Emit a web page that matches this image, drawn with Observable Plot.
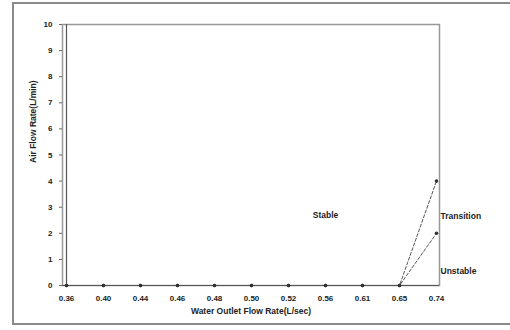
<!DOCTYPE html>
<html>
<head>
<meta charset="utf-8">
<script src="https://cdn.jsdelivr.net/npm/d3@7"></script>
<script src="https://cdn.jsdelivr.net/npm/@observablehq/plot@0.6"></script>
<style>
  html, body { margin: 0; padding: 0; background: #fff; }
  #wrap { position: relative; width: 510px; height: 330px; overflow: hidden; }
  #box { position: absolute; left: 12px; top: 2px; width: 510px; height: 323px; border: 2px solid #8a8a8a; box-sizing: border-box; pointer-events: none; }
  svg { position: absolute; left: 0; top: 0; }
</style>
</head>
<body>
<div id="wrap"><div id="box"></div></div>
<script>
const categories = ["0.36","0.40","0.44","0.46","0.48","0.50","0.52","0.56","0.61","0.65","0.74"];
const upperBoundary = [0,0,0,0,0,0,0,0,0,0,4];
const lowerBoundary = [0,0,0,0,0,0,0,0,0,0,2];
const yTicks = [0,1,2,3,4,5,6,7,8,9,10];
const regionLabels = ["Stable","Transition","Unstable"];
const regionX = ["0.56","0.74","0.74"];
const regionY = [2.7,2.65,0.55];
const xTitle = "Water Outlet Flow Rate(L/sec)";
const yTitle = "Air Flow Rate(L/min)";

const upper = categories.map((c,i)=>({x:c, y:upperBoundary[i]}));
const lower = categories.map((c,i)=>({x:c, y:lowerBoundary[i]}));
const labels = regionLabels.map((t,i)=>({t, x:regionX[i], y:regionY[i]}));

const font = "Liberation Sans, Arial, sans-serif";

const chart = Plot.plot({
  width: 510,
  height: 330,
  marginLeft: 62,
  marginRight: 71,
  marginTop: 24,
  marginBottom: 45,
  style: {fontFamily: font, fontSize: "8px", fontWeight: "bold", color: "#222", background: "transparent"},
  x: {type: "point", domain: categories, padding: 0},
  y: {domain: [0,10]},
  marks: [
    Plot.frame({stroke: "#999", strokeWidth: 1.5}),
    Plot.axisY({ticks: yTicks, tickSize: 3, tickPadding: 7, tickFormat: d => d, label: null, stroke:"#666"}),
    Plot.axisX({tickSize: 0, tickPadding: 10, label: null}),
    Plot.ruleY([0], {stroke: "#555", strokeWidth: 1.2}),
    Plot.ruleX([categories[0]], {stroke: "#555", strokeWidth: 1.2}),
    Plot.line(upper, {x:"x", y:"y", stroke:"#555", strokeWidth:1, strokeDasharray:"3,2"}),
    Plot.line(lower, {x:"x", y:"y", stroke:"#555", strokeWidth:1, strokeDasharray:"3,2"}),
    Plot.dot(upper, {x:"x", y:"y", r:1.8, fill:"#333"}),
    Plot.dot(lower, {x:"x", y:"y", r:1.8, fill:"#333"}),
    Plot.text(labels.slice(0,1), {x:"x", y:"y", text:"t", textAnchor: "middle", fill:"#222", fontSize: 8.5}),
    Plot.text(labels.slice(1), {x:"x", y:"y", text:"t", textAnchor: "start", dx: 4, fill:"#222", fontSize: 8.5}),
    Plot.text([xTitle], {frameAnchor:"bottom", dy: 28, fontSize: 8.5, fill:"#222"}),
    Plot.text([yTitle], {frameAnchor:"left", dx: -29, dy: 8, rotate: -90, fontSize: 8.5, fill:"#222"})
  ]
});
document.getElementById("wrap").prepend(chart);
</script>
</body>
</html>
